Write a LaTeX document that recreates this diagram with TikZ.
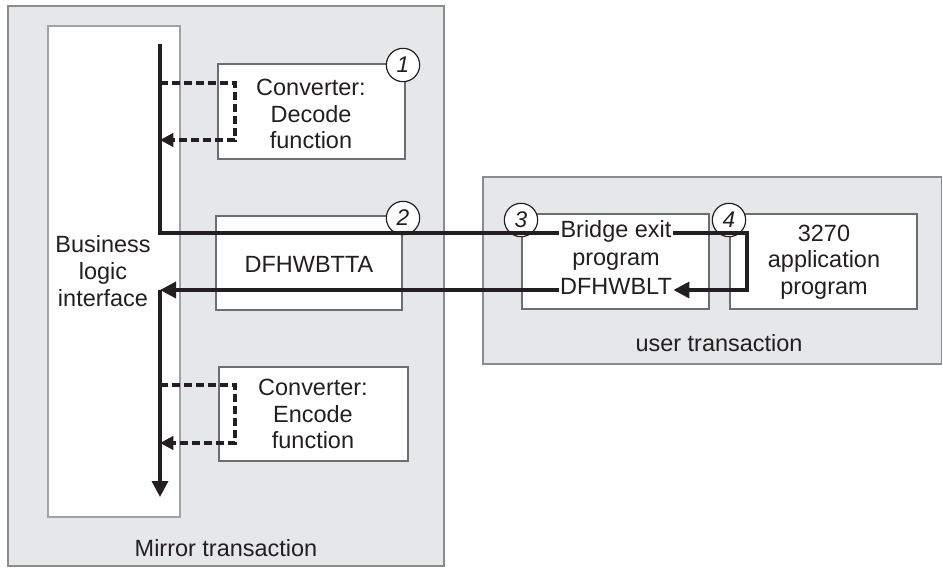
\documentclass[tikz,border=0pt]{standalone}
\usepackage{fontspec}
\setmainfont{Liberation Sans}
\usetikzlibrary{arrows.meta}
\definecolor{panel}{HTML}{E6E7E8}
\definecolor{frame}{HTML}{8A8B8D}
\definecolor{edge}{HTML}{6D6E71}
\definecolor{ink}{HTML}{231F20}
\begin{document}
\begin{tikzpicture}[x=0.75pt,y=-0.75pt,
    panelbox/.style={draw=frame, fill=panel, line width=1.1pt},
    box/.style={draw=edge, fill=white, line width=1.1pt},
    num/.style={circle, draw=ink, fill=white, line width=0.9pt, minimum size=25pt, font=\fontsize{17}{20}\selectfont\itshape},
    wire/.style={text height=0.72em, text depth=0pt},
    plain/.style={draw=ink, line width=2.6pt},
    flow/.style={plain, -{Triangle[length=12pt,width=12pt]}},
    dashflow/.style={draw=ink, line width=2.4pt, dash pattern=on 6pt off 3pt, -{Triangle[length=10pt,width=10pt]}}]
    \tikzstyle{every node}+=[inner sep=0pt, text=ink, font=\fontsize{17.6}{20}\selectfont]
    \useasboundingbox (0,0) rectangle (943,570);
    % transactions
    \draw [panelbox] (8,6) rectangle (444,566);
    \draw [panelbox] (483,177) rectangle (941.5,364);
    \draw [box, draw=frame!80] (48,26) rectangle (180,517);
    \draw [box] (218,64) rectangle (405,159);
    \draw [box] (216,216) rectangle (402,310);
    \draw [box] (219,367) rectangle (408,461);
    \draw [box] (522,214) rectangle (709,309);
    \draw [box] (730,214) rectangle (917,309);
    % texts
    \node (bli) at (103,271) [align=center] {Business\\logic\\interface};
    \node (dec) at (311,114) [align=center] {Converter:\\Decode\\function};
    \node (tta) at (309,264) {DFHWBTTA};
    \node (enc) at (313,414) [align=center] {Converter:\\Encode\\function};
    \node (br1) [wire] at (616,233) {Bridge exit};
    \node (br2) [wire] at (616,261) {program};
    \node (br3) [wire] at (616,290) {DFHWBLT};
    \node (app) at (824,262) [align=center] {3270\\application\\program};
    \node (mirror) at (226,548) {Mirror transaction};
    \node (user) at (719,343) {user transaction};
    % steps
    \node [num] (n1) at (403,65) {1};
    \node [num] (n2) at (403,218) {2};
    \node [num] (n3) at (521,220) {3};
    \node [num] (n4) at (729,220) {4};
    % flow
    \coordinate (bliTop) at (160,44);
    \coordinate (bliIn) at (160,290);
    \coordinate (bliEnd) at (160,497);
    \coordinate (turn) at (747,0);
    \draw [plain] (bliTop) |- ([xshift=-1pt]br1.west);
    \draw [flow, shorten >=1pt] ([xshift=1pt]br1.east) -| (turn |- br3.east) -- (br3.east);
    \draw [flow] ([xshift=-1pt]br3.west) -- (bliIn);
    \draw [flow] (bliIn) -- (bliEnd);
    \draw [dashflow] (160,83) -- ++(75,0) |- (160,140);
    \draw [dashflow] (160,385) -- ++(75,0) |- (160,443);
\end{tikzpicture}
\end{document}
